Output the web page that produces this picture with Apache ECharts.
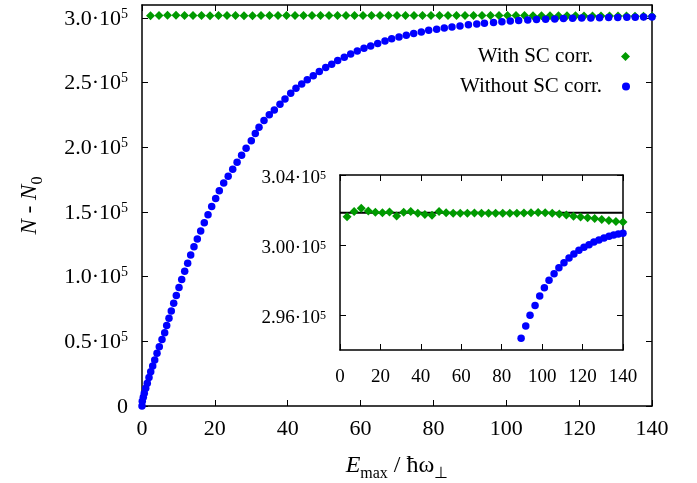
<!DOCTYPE html>
<html>
<head>
<meta charset="utf-8">
<script src="https://cdn.jsdelivr.net/npm/echarts@6/dist/echarts.min.js"></script>
<style>
html,body{margin:0;padding:0;background:#fff;}
#chart{width:697px;height:483px;}
</style>
</head>
<body>
<div id="chart"></div>
<script>
// ---- data ----
// Without SC correction (blue circles), E_max and N - N0
var blueX = [0,0.08,0.36,0.63,1.02,1.45,1.92,2.39,2.94,3.49,4.12,4.75,5.49,6.23,6.78,7.41,8.04,8.70,9.42,10.16,
  10.90,11.72,12.54,13.37,14.27,15.18,16.11,17.10,18.12,19.13,20.23,21.22,22.43,23.66,24.90,26.10,27.34,28.58,30.0,31.10,
  32.12,33.49,34.94,36.32,37.88,39.25,40.82,42.27,43.84,45.37,47.02,48.67,50.43,52.07,53.72,55.53,57.29,59.10,60.94,62.78,
  64.70,66.70,68.54,70.55,72.55,74.58,76.67,78.70,80.89,82.98,85.09,87.29,89.6,91.9,94.0,96.5,98.8,101.1,103.4,105.9,
  108.3,110.8,113.3,115.7,118.2,120.7,123.2,125.6,128.1,130.6,133.1,135.4,137.7,140.0];
var blueY = [0,3600,6700,9800,13700,17500,22100,26500,30900,35500,40700,45800,51500,56600,62300,67900,73500,79500,85400,91600,
  97800,104200,110300,116700,123200,129100,135300,141700,147900,154300,160500,166400,172300,177700,183000,188400,193800,199200,205000,210600,
  215500,220700,225100,228900,233300,237400,241700,245600,249000,252300,255400,258500,261600,264100,267000,269700,272100,274500,276500,278400,
  280300,282100,283900,285300,286600,287900,289200,290400,291300,292200,293000,293800,294670,295370,295980,296550,297090,297560,297980,298360,
  298700,298990,299260,299490,299700,299870,300020,300170,300290,300400,300500,300570,300630,300670];

// With SC correction (green diamonds), main panel sampling
var greenX = [2.33,4.67,7,9.33,11.67,14,16.33,18.67,21,23.33,25.67,28,30.33,32.67,35,37.33,39.67,42,44.33,46.67,
  49,51.33,53.67,56,58.33,60.67,63,65.33,67.67,70,72.33,74.67,77,79.33,81.67,84,86.33,88.67,91,93.33,
  95.67,98,100.33,102.67,105,107.33,109.67,112,114.33,116.67,119,121.33,123.67,126,128.33,130.67,133,135.33,137.67,140];
var greenY = [301600,301900,302100,302000,301900,301850,301900,301700,301900,301900,301800,301750,301700,301900,301850,301800,301820,301820,301820,301820,
  301820,301820,301820,301820,301820,301820,301820,301820,301820,301820,301820,301820,301820,301820,301830,301840,301850,301850,301850,301840,
  301830,301820,301810,301800,301790,301780,301740,301710,301670,301630,301600,301570,301540,301520,301480,301450,301410,301370,301340,301310];

// With SC correction (green diamonds), inset sampling
var greenInsetX = [3.5,7,10.5,14,17.5,21,24.5,28,31.5,35,38.5,42,45.5,49,52.5,56,59.5,63,66.5,70,
  73.5,77,80.5,84,87.5,91,94.5,98,101.5,105,108.5,112,115.5,119,122.5,126,129.5,133,136.5,140];
var greenInsetY = [301620,301910,302100,301950,301870,301850,301890,301660,301870,301910,301810,301750,301700,301910,301850,301820,301820,301820,301830,301820,
  301820,301820,301820,301820,301820,301830,301850,301860,301850,301810,301770,301710,301650,301600,301560,301520,301460,301400,301340,301310];

// reference (black) line in the inset
var refLineX = [0, 140];
var refLineY = [301840, 301840];

// tick values
var xTicks = [0,20,40,60,80,100,120,140];
var mainYTicks = [0,50000,100000,150000,200000,250000,300000];
var insetYTicks = [296000,300000,304000];

var legendNames = ['With SC corr.', 'Without SC corr.'];

// ---- chart ----
var FONT = 'Liberation Serif';
var GREEN = '#009a00';
var BLUE = '#0000ff';

function zip(xs, ys){ var out=[]; for (var i=0;i<xs.length;i++) out.push([xs[i], ys[i]]); return out; }

function supFmt(digits){
  return function(v){
    if (v === 0) return '{n|0}';
    return '{n|' + (v/1e5).toFixed(digits) + '·10}{s|5}';
  };
}
function richSup(size, shift){
  return {
    n:{fontSize:size, fontFamily:FONT, color:'#000', lineHeight:size+4, padding:[shift,0,0,0]},
    s:{fontSize:Math.round(size*0.64), fontFamily:FONT, color:'#000', verticalAlign:'top', padding:[shift,0,0,0]}
  };
}

var axisLineStyle = {show:true, onZero:false, lineStyle:{color:'#000', width:1.5}};

function xAxisDef(grid, pos, showLabel, fs, margin){
  return {
    type:'value', gridIndex:grid, position:pos, min:0, max:140, interval:20,
    axisLine:axisLineStyle,
    axisTick:{show:true, inside:true, length:6, lineStyle:{color:'#000', width:1}},
    axisLabel:{show:showLabel, fontSize:fs, fontFamily:FONT, color:'#000', margin:margin},
    splitLine:{show:false}
  };
}
function yAxisDef(grid, pos, showLabel, min, max, ticks, fs, digits, margin, shift){
  return {
    type:'value', gridIndex:grid, position:pos, min:min, max:max,
    axisLine:axisLineStyle,
    axisTick:{show:true, inside:true, length:6, customValues:ticks, lineStyle:{color:'#000', width:1}},
    axisLabel:{show:showLabel, customValues:ticks, fontSize:fs, fontFamily:FONT, color:'#000', margin:margin,
      formatter:supFmt(digits), rich:richSup(fs, shift)},
    splitLine:{show:false}
  };
}

var xMain = xAxisDef(0, 'bottom', true, 22, 12);
xMain.name = '{e|E}{sub|max}{t| / ħω}{sub|⊥}';
xMain.nameLocation = 'middle';
xMain.nameGap = 44;
xMain.nameTextStyle = {rich:{
  e:{fontSize:24, fontFamily:FONT, fontStyle:'italic', color:'#000'},
  t:{fontSize:24, fontFamily:FONT, color:'#000'},
  sub:{fontSize:16, fontFamily:FONT, color:'#000', verticalAlign:'bottom', padding:[16,0,0,0]}
}};

var yMain = yAxisDef(0, 'left', true, 0, 310000, mainYTicks, 22, 1, 14, 2);
yMain.name = '{i|N}{t| - }{i|N}{sub|0}';
yMain.nameLocation = 'middle';
yMain.nameRotate = 90;
yMain.nameGap = 96;
yMain.nameTextStyle = {rich:{
  i:{fontSize:23, fontFamily:FONT, fontStyle:'italic', color:'#000'},
  t:{fontSize:23, fontFamily:FONT, color:'#000'},
  sub:{fontSize:16, fontFamily:FONT, color:'#000', verticalAlign:'bottom', padding:[16,0,0,0]}
}};

var option = {
  backgroundColor:'#fff',
  animation:false,
  grid:[
    {left:142, right:45, top:5, bottom:77, outerBoundsMode:'none', containLabel:false},
    {left:340, right:74, top:175, bottom:133, outerBoundsMode:'none', containLabel:false,
     show:true, backgroundColor:'#fff', borderWidth:0}
  ],
  xAxis:[
    xMain,
    xAxisDef(0, 'top', false, 22, 10),
    xAxisDef(1, 'bottom', true, 19, 18),
    xAxisDef(1, 'top', false, 19, 12)
  ],
  yAxis:[
    yMain,
    yAxisDef(0, 'right', false, 0, 310000, mainYTicks, 22, 1, 14, 2),
    yAxisDef(1, 'left', true, 294000, 304000, insetYTicks, 19, 2, 14, 6),
    yAxisDef(1, 'right', false, 294000, 304000, insetYTicks, 19, 2, 14, 6)
  ],
  legend:[
    {data:[{name:legendNames[0], icon:'diamond'}], orient:'vertical', align:'right', right:67, top:46, padding:0,
     itemWidth:9, itemHeight:9, selectedMode:false,
     textStyle:{fontSize:21, fontFamily:FONT, color:'#000', padding:[0,23,0,0]}},
    {data:[{name:legendNames[1], icon:'circle'}], orient:'vertical', align:'right', right:67, top:76, padding:0,
     itemWidth:8, itemHeight:8, selectedMode:false,
     textStyle:{fontSize:21, fontFamily:FONT, color:'#000', padding:[0,15,0,0]}}
  ],
  series:[
    {name:legendNames[0], type:'scatter', xAxisIndex:0, yAxisIndex:0, symbol:'diamond', symbolSize:9,
     itemStyle:{color:GREEN, opacity:1}, data:zip(greenX, greenY)},
    {name:legendNames[1], type:'scatter', xAxisIndex:0, yAxisIndex:0, symbol:'circle', symbolSize:7.5,
     itemStyle:{color:BLUE, opacity:1}, data:zip(blueX, blueY)},
    {name:'ref', type:'line', xAxisIndex:2, yAxisIndex:2, showSymbol:false, symbol:'none',
     lineStyle:{color:'#000', width:2}, data:zip(refLineX, refLineY), z:1},
    {name:legendNames[0], type:'scatter', xAxisIndex:2, yAxisIndex:2, symbol:'diamond', symbolSize:9,
     itemStyle:{color:GREEN, opacity:1}, data:zip(greenInsetX, greenInsetY), clip:true},
    {name:legendNames[1], type:'scatter', xAxisIndex:2, yAxisIndex:2, symbol:'circle', symbolSize:7.5,
     itemStyle:{color:BLUE, opacity:1}, data:zip(blueX, blueY), clip:true}
  ]
};

var chart = echarts.init(document.getElementById('chart'), null, {renderer:'canvas'});
chart.setOption(option);
</script>
</body>
</html>
